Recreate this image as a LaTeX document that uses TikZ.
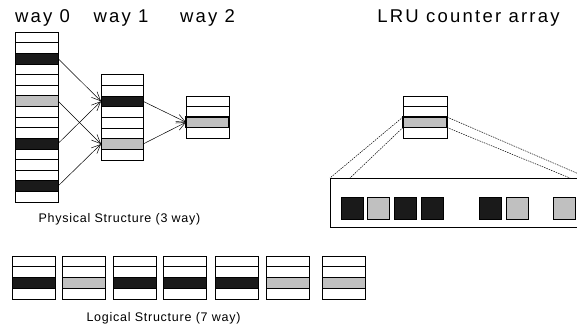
\documentclass[tikz,border=0pt]{standalone}
\usepackage{fontspec}
\setmainfont{Liberation Sans}
\newfontfamily\bigfont[LetterSpace=12]{Liberation Sans}
\newfontfamily\smallfont[LetterSpace=6]{Liberation Sans}
\usetikzlibrary{arrows.meta}
\definecolor{cellblack}{HTML}{1A1A1A}
\definecolor{cellgray}{HTML}{C0C0C0}
\begin{document}
\begin{tikzpicture}[x=1pt,y=-1pt,
  cell/.style={draw=black, line width=0.7pt, minimum width=43pt, minimum height=#1, inner sep=0pt, outer sep=0pt, anchor=north west},
  hot/.style={line width=1.2pt},
  arr/.style={-{Straight Barb[length=9pt,width=8pt]}, line width=0.5pt},
  dotline/.style={dash pattern=on 1.5pt off 1pt, line width=0.5pt},
  sq/.style={draw=black, line width=0.6pt, minimum size=22pt, inner sep=0pt, anchor=north west},
  bigtext/.style={font=\bigfont\fontsize{18.5}{20}\selectfont, anchor=base, inner sep=0pt},
  smalltext/.style={font=\smallfont\fontsize{12.5}{14}\selectfont, anchor=base, inner sep=0pt}
]
\useasboundingbox (0,0) rectangle (577,329);
\clip (0,0) rectangle (577,329);

% labels
\node[bigtext] (t0) at (42.5,22.5) {way 0};
\node[bigtext] (t1) at (121,22.5) {way 1};
\node[bigtext] (t2) at (207.5,22.5) {way 2};
\node[bigtext] (t3) at (468.5,22.5) {LRU counter array};
\node[smalltext] (tp) at (119.5,222) {Physical Structure (3 way)};
\node[smalltext] (tl) at (163.5,321) {Logical Structure (7 way)};

% way 0
\foreach \i/\c in {0/white,1/white,2/cellblack,3/white,4/white,5/white,6/cellgray,7/white,8/white,9/white,10/cellblack,11/white,12/white,13/white,14/cellblack,15/white}
  \node[cell=10.625pt, fill=\c] (a\i) at (15,32+\i*10.625) {};

% way 1
\foreach \i/\c in {0/white,1/white,2/cellblack,3/white,4/white,5/white,6/cellgray,7/white}
  \node[cell=10.7pt, fill=\c, minimum width=42pt] (b\i) at (101,74.5+\i*10.7) {};

% way 2
\foreach \i/\c in {0/white,1/white,2/cellgray,3/white}
  \node[cell=10.5pt, fill=\c] (c\i) at (186,96+\i*10.5) {};
\node[cell=10.5pt, fill=cellgray, hot] (c2) at (186,117) {};

% arrows
\draw[arr] (a2.east) -- (b2.west);
\draw[arr] (a6.east) -- (b6.west);
\draw[arr] (a10.east) -- (b2.west);
\draw[arr] (a14.east) -- (b6.west);
\draw[arr] (b2.east) -- (c2.west);
\draw[arr] (b6.east) -- (c2.west);

% LRU stack
\foreach \i/\c in {0/white,1/white,2/cellgray,3/white}
  \node[cell=10.5pt, fill=\c, minimum width=44pt] (l\i) at (403,96+\i*10.5) {};
\node[cell=10.5pt, fill=cellgray, hot, minimum width=44pt] (l2) at (403,117) {};

% counter box
\coordinate (bl1) at (330,178);
\coordinate (bl2) at (350,178);
\coordinate (br1) at (588,178);
\coordinate (br2) at (570,178);
\node[draw=black, line width=0.7pt, minimum width=270pt, minimum height=49pt, inner sep=0pt, anchor=north west] (box) at (330,178) {};
\draw[dotline] (l2.north west) -- (bl1);
\draw[dotline] (l2.south west) -- (bl2);
\draw[dotline] (l2.north east) -- (br1);
\draw[dotline] (l2.south east) -- (br2);

\foreach \k/\x/\c in {1/341/cellblack,2/367/cellgray,3/394/cellblack,4/421/cellblack,5/479/cellblack,6/506/cellgray,7/553/cellgray}
  \node[sq, fill=\c] (s\k) at (\x,197) {};

% logical structure
\foreach \k/\x/\c in {1/12/cellblack,2/62/cellgray,3/113/cellblack,4/163/cellblack,5/215/cellblack,6/266/cellgray,7/322/cellgray}{
  \foreach \i in {0,1,3}
    \node[cell=10.75pt, fill=white] (g\k r\i) at (\x,256+\i*10.75) {};
  \node[cell=10.75pt, fill=\c] (g\k r2) at (\x,256+2*10.75) {};
}
\end{tikzpicture}
\end{document}
